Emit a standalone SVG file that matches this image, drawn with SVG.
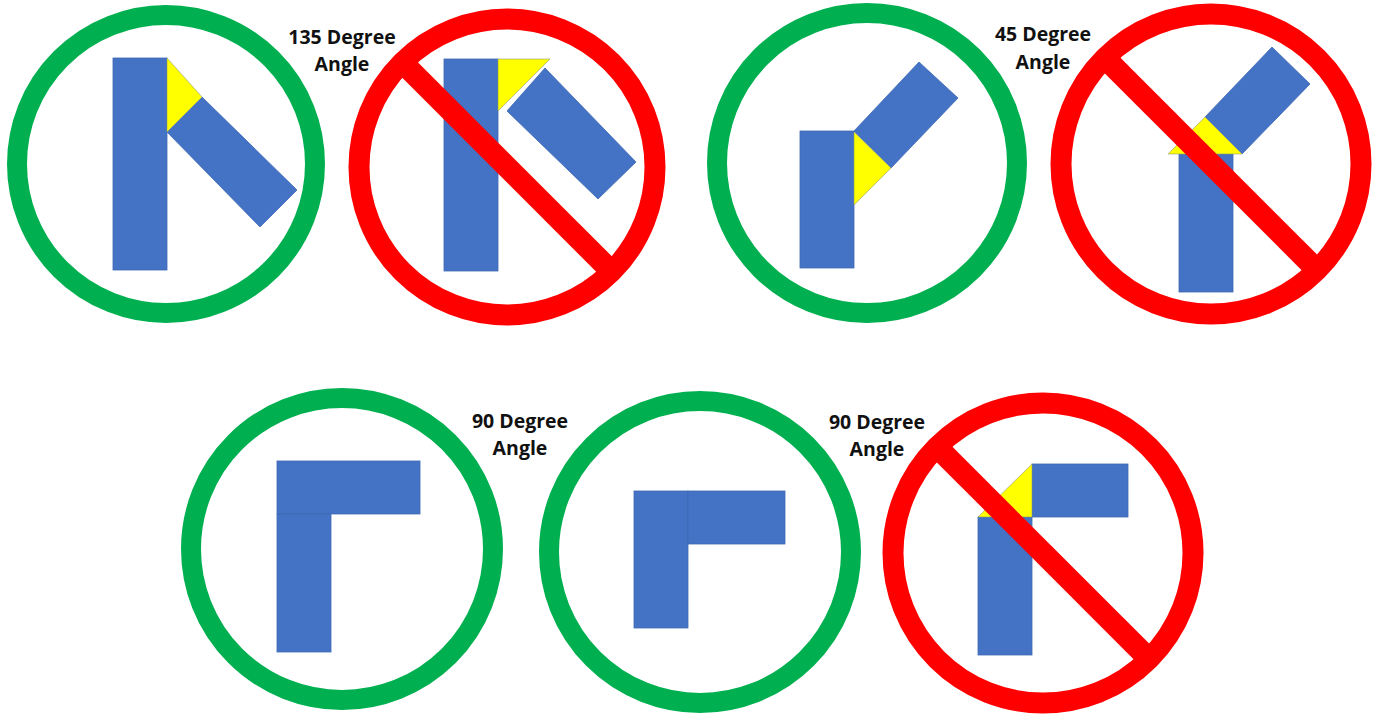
<svg xmlns="http://www.w3.org/2000/svg" width="1381" height="715" viewBox="0 0 1381 715">
<style>
.bg{fill:#ffffff}
.blue{fill:#4472C4;stroke:#3F69B5;stroke-width:0.8}
.yel{fill:#FFFF00;stroke:#8E9A7A;stroke-width:0.6}
.ok{fill:none;stroke:#00B050;stroke-width:20}
.no{fill:none;stroke:#FF0000;stroke-width:21}
.bar{stroke:#FF0000;stroke-width:22;stroke-linecap:butt}
.lbl{font-family:"Open Sans","Liberation Sans",Arial,sans-serif;font-weight:700;font-size:19.5px;fill:#111111;text-anchor:middle}
</style>
<rect class="bg" x="0" y="0" width="1381" height="715"/>

<g id="sign-135-ok">
  <rect class="blue" x="113" y="58" width="54" height="212"/>
  <polygon class="blue" points="167,132 202,97 297,190 260,227"/>
  <polygon class="yel" points="167,58 202,97 167,132"/>
  <circle class="ok" cx="166" cy="164" r="149"/>
</g>

<g id="label-135">
  <text class="lbl" x="342" y="44">135 Degree</text>
  <text class="lbl" x="342" y="71">Angle</text>
</g>

<g id="sign-135-no">
  <rect class="blue" x="444" y="59" width="54" height="212"/>
  <polygon class="blue" points="507,111 545,68 636,162 598,199"/>
  <polygon class="yel" points="498,59 550,59 498,111"/>
  <circle class="no" cx="507" cy="167" r="148"/>
  <line class="bar" x1="402.3" y1="62.3" x2="611.7" y2="271.7"/>
</g>

<g id="sign-45-ok">
  <rect class="blue" x="800" y="131" width="54" height="137"/>
  <polygon class="blue" points="854,131 919,62 958,98 891,168"/>
  <polygon class="yel" points="854,132 891,168 854,205"/>
  <circle class="ok" cx="867" cy="163" r="150"/>
</g>

<g id="label-45">
  <text class="lbl" x="1043" y="41">45 Degree</text>
  <text class="lbl" x="1043" y="69">Angle</text>
</g>

<g id="sign-45-no">
  <rect class="blue" x="1179" y="154" width="54" height="138"/>
  <polygon class="blue" points="1205,117 1272,47 1310,84 1242,154"/>
  <polygon class="yel" points="1168,154 1242,154 1205,117"/>
  <circle class="no" cx="1211" cy="164" r="150"/>
  <line class="bar" x1="1104.9" y1="57.9" x2="1317.1" y2="270.1"/>
</g>

<g id="sign-90-ok-a">
  <rect class="blue" x="277" y="461" width="143" height="53"/>
  <rect class="blue" x="277" y="514" width="54" height="138"/>
  <circle class="ok" cx="342" cy="549" r="151"/>
</g>

<g id="label-90-a">
  <text class="lbl" x="520" y="428">90 Degree</text>
  <text class="lbl" x="520" y="455">Angle</text>
</g>

<g id="sign-90-ok-b">
  <rect class="blue" x="634" y="491" width="54" height="137"/>
  <rect class="blue" x="688" y="491" width="97" height="53"/>
  <circle class="ok" cx="700" cy="552" r="151"/>
</g>

<g id="label-90-b">
  <text class="lbl" x="877" y="429">90 Degree</text>
  <text class="lbl" x="877" y="456">Angle</text>
</g>

<g id="sign-90-no">
  <rect class="blue" x="978" y="517" width="54" height="138"/>
  <rect class="blue" x="1032" y="464" width="96" height="53"/>
  <polygon class="yel" points="1032,464 1032,517 978,517"/>
  <circle class="no" cx="1043" cy="553" r="150"/>
  <line class="bar" x1="936.9" y1="446.9" x2="1149.1" y2="659.1"/>
</g>
</svg>
